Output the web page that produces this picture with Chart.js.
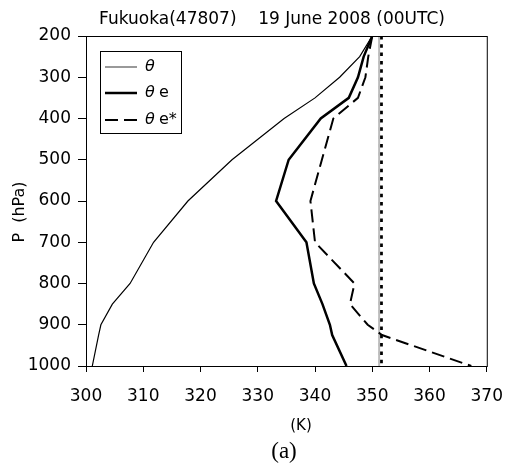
<!doctype html>
<html lang="en">
<head>
    <meta charset="utf-8" />
    <title>Fukuoka sounding</title>
    <script src="https://cdn.jsdelivr.net/npm/chart.js"></script>
    <style>
        body { margin: 0; background: #fff; }
        #wrap { width: 517px; height: 473px; position: relative; }
    </style>
</head>
<body>
    <div id="wrap"><canvas id="chartProfile"></canvas></div>
    <script>
        // pressure levels (hPa) and values (K)
        const levels = [200, 250, 300, 350, 400, 500, 600, 700, 800, 850, 900, 925, 1000];
        const theta = [350, 347.8, 344.3, 340, 334.6, 325.5, 317.8, 311.8, 307.7, 304.6, 302.6, 302.2, 301.1];
        const thetaE = [350, 348.5, 347.5, 345.9, 341, 335.4, 333.2, 338.5, 339.8, 341.3, 342.6, 343, 345.5];
        const thetaEs = [350, 349.3, 348.8, 347.5, 343.2, 341.2, 339.2, 340, 346.9, 346.1, 349.2, 351.7, 367.3];
        const refK = 351.5;
        const refLevels = [200, 1000];
        const xTicks = [300, 310, 320, 330, 340, 350, 360, 370];
        const yTicks = [200, 300, 400, 500, 600, 700, 800, 900, 1000];

        function pairs(xs, ys) {
            let out = [];
            for (let i = 0; i < xs.length; i++) {
                out.push({ x: xs[i], y: ys[i] });
            }
            return out;
        }

        const tickFont = { family: 'DejaVu Sans', size: 17 };

        // frame, inside legend and extra labels
        const decorations = {
            id: 'decorations',
            afterDraw(chart) {
                const ctx = chart.ctx;
                const a = chart.chartArea;
                ctx.save();
                ctx.strokeStyle = '#000';
                ctx.lineWidth = 1;
                ctx.strokeRect(a.left + 0.5, a.top + 0.5, a.right - a.left, a.bottom - a.top);

                ctx.fillStyle = '#000';
                ctx.textAlign = 'center';
                ctx.textBaseline = 'middle';
                ctx.font = '17px "DejaVu Sans"';
                ctx.fillText('Fukuoka(47807)    19 June 2008 (00UTC)', 272, 20);
                ctx.font = '15px "DejaVu Sans"';
                ctx.fillText('(K)', 301, 426);
                ctx.font = '23px "Liberation Serif"';
                ctx.fillText('(a)', 284, 452);

                ctx.save();
                ctx.translate(20, 212);
                ctx.rotate(-Math.PI / 2);
                ctx.font = '16px "DejaVu Sans"';
                ctx.fillText('P  (hPa)', 0, 0);
                ctx.restore();

                // legend box
                ctx.lineWidth = 1;
                ctx.strokeRect(100.5, 51.5, 81, 82);
                const items = [
                    { ds: 0, label: '', y: 67 },
                    { ds: 1, label: 'e', y: 93 },
                    { ds: 2, label: 'e*', y: 120 }
                ];
                items.forEach((it, i) => {
                    const ds = chart.data.datasets[it.ds];
                    ctx.beginPath();
                    ctx.strokeStyle = i === 0 ? '#777' : '#000';
                    ctx.lineWidth = i === 0 ? 1.5 : ds.borderWidth;
                    ctx.setLineDash(ds.borderDash || []);
                    ctx.moveTo(105, it.y);
                    ctx.lineTo(137, it.y);
                    ctx.stroke();
                    ctx.setLineDash([]);
                    ctx.textAlign = 'left';
                    ctx.font = 'italic 16px "DejaVu Sans"';
                    ctx.fillText('\u03B8', 145, it.y);
                    ctx.font = '16px "DejaVu Sans"';
                    ctx.fillText(it.label, 159, it.y);
                });
                ctx.restore();
            }
        };

        function buildChartProfile() {
            const ctx = document.getElementById('chartProfile');
            const myChart = new Chart(ctx, {
                type: 'scatter',
                data: {
                    datasets: [
                        { label: '\u03B8', data: pairs(theta, levels), showLine: true, borderColor: '#000', borderWidth: 1.2, pointRadius: 0 },
                        { label: '\u03B8 e', data: pairs(thetaE, levels), showLine: true, borderColor: '#000', borderWidth: 2.5, pointRadius: 0 },
                        { label: '\u03B8 e*', data: pairs(thetaEs, levels), showLine: true, borderColor: '#000', borderWidth: 2, borderDash: [13, 6], pointRadius: 0 },
                        { label: 'ref', data: pairs([refK - 0.3, refK - 0.3], refLevels), showLine: true, borderColor: '#bbb', borderWidth: 2, pointRadius: 0 },
                        { label: 'ref dots', data: pairs([refK, refK], refLevels), showLine: true, borderColor: '#000', borderWidth: 4, borderDash: [3.5, 4.8], borderCapStyle: 'butt', pointRadius: 0 }
                    ]
                },
                options: {
                    responsive: true,
                    maintainAspectRatio: false,
                    animation: false,
                    layout: { padding: { top: 36, right: 25, left: 0, bottom: 0 } },
                    plugins: {
                        legend: { display: false },
                        tooltip: { enabled: false }
                    },
                    scales: {
                        x: {
                            type: 'linear',
                            min: 300,
                            max: 370,
                            afterBuildTicks: (s) => { s.ticks = xTicks.map(v => ({ value: v })); },
                            afterFit: (s) => { s.height = 107; },
                            grid: { drawOnChartArea: false, color: '#000', tickLength: 6 },
                            border: { color: '#000', width: 1 },
                            ticks: { color: '#000', font: tickFont, padding: 14, maxRotation: 0, callback: (v) => String(v) }
                        },
                        y: {
                            type: 'linear',
                            reverse: true,
                            min: 200,
                            max: 1000,
                            afterBuildTicks: (s) => { s.ticks = yTicks.map(v => ({ value: v })); },
                            afterFit: (s) => { s.width = 86; },
                            grid: { drawOnChartArea: false, color: '#000', tickLength: 8 },
                            border: { color: '#000', width: 1 },
                            ticks: { color: '#000', font: tickFont, padding: 7, callback: (v) => String(v) }
                        }
                    }
                },
                plugins: [decorations]
            });
        }

        buildChartProfile();
    </script>
</body>
</html>
